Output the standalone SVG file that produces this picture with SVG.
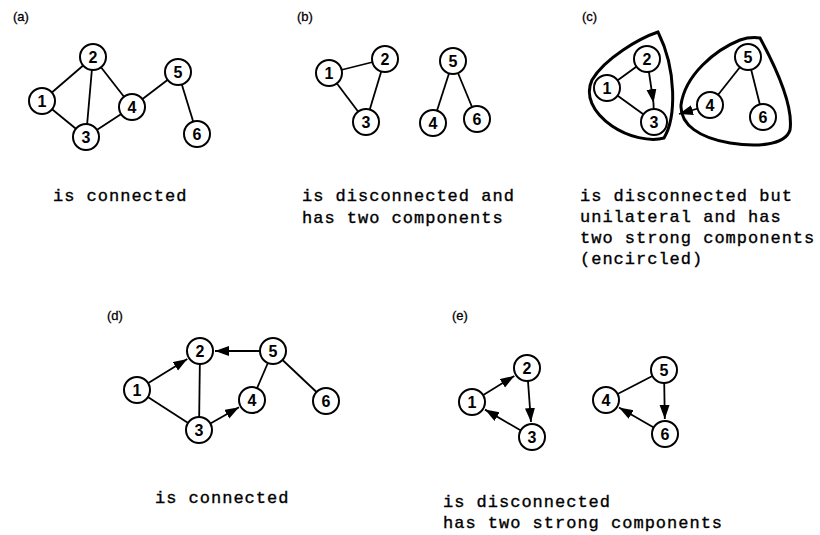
<svg xmlns="http://www.w3.org/2000/svg" width="820" height="535" viewBox="0 0 820 535">
<style>
.e{stroke:#000;stroke-width:1.8;fill:none}
.n circle{fill:#fff;stroke:#000;stroke-width:2}
.n text{font-family:"Liberation Sans",Arial,sans-serif;font-weight:bold;font-size:16px;text-anchor:middle}
.lab{font-family:"Liberation Sans",Arial,sans-serif;font-size:13px;stroke:#000;stroke-width:0.3}
.cap{font-family:"Liberation Mono","Courier New",monospace;font-size:17px;letter-spacing:1px;stroke:#000;stroke-width:0.35}
.blob{fill:none;stroke:#000;stroke-width:3}
</style>
<defs>
<marker id="ah" markerUnits="userSpaceOnUse" markerWidth="15" markerHeight="11" refX="14" refY="5" orient="auto">
<path d="M0,0 L14,5 L0,10 Z" fill="#000"/>
</marker>
</defs>
<rect width="820" height="535" fill="#fff"/>

<g id="labels">
<text class="lab" x="13" y="21">(a)</text>
<text class="lab" x="297" y="21">(b)</text>
<text class="lab" x="582" y="21">(c)</text>
<text class="lab" x="107" y="320">(d)</text>
<text class="lab" x="452" y="320">(e)</text>
</g>

<g id="blobs">
<path class="blob" d="M658,32 C640,38 605,58 592,80 C585,95 592,112 612,126 C628,137 650,142 664,138 C676,118 677,70 658,32 Z"/>
<path class="blob" d="M740,40 C715,50 685,75 681,105 C680,125 700,138 730,143 C755,147 785,146 790,130 C793,110 780,75 760,38 C753,37 746,38 740,40 Z"/>
</g>

<g id="connectors">
<line class="e" x1="42" y1="101" x2="93" y2="57"/>
<line class="e" x1="42" y1="101" x2="86" y2="137"/>
<line class="e" x1="93" y1="57" x2="86" y2="137"/>
<line class="e" x1="93" y1="57" x2="132" y2="107"/>
<line class="e" x1="86" y1="137" x2="132" y2="107"/>
<line class="e" x1="132" y1="107" x2="178" y2="72"/>
<line class="e" x1="178" y1="72" x2="197" y2="134"/>
<line class="e" x1="329" y1="73" x2="385" y2="59"/>
<line class="e" x1="329" y1="73" x2="366" y2="122"/>
<line class="e" x1="385" y1="59" x2="366" y2="122"/>
<line class="e" x1="453" y1="61" x2="433" y2="123"/>
<line class="e" x1="453" y1="61" x2="477" y2="119"/>
<line class="e" x1="607" y1="88" x2="647" y2="59"/>
<line class="e" x1="607" y1="88" x2="654" y2="122"/>
<line class="e" x1="647" y1="59" x2="653.5" y2="103" marker-end="url(#ah)"/>
<line class="e" x1="653.5" y1="103" x2="654" y2="122"/>
<line class="e" x1="710" y1="105" x2="679" y2="114" marker-end="url(#ah)"/>
<line class="e" x1="748" y1="57" x2="710" y2="105"/>
<line class="e" x1="748" y1="57" x2="763" y2="117"/>
<line class="e" x1="137" y1="390" x2="187.3" y2="358.9" marker-end="url(#ah)"/>
<line class="e" x1="273" y1="351" x2="215" y2="351" marker-end="url(#ah)"/>
<line class="e" x1="200" y1="351" x2="199" y2="430"/>
<line class="e" x1="137" y1="390" x2="199" y2="430"/>
<line class="e" x1="199" y1="430" x2="239" y2="407.3" marker-end="url(#ah)"/>
<line class="e" x1="273" y1="351" x2="252" y2="400"/>
<line class="e" x1="273" y1="351" x2="326" y2="401"/>
<line class="e" x1="472" y1="402" x2="514.3" y2="375.9" marker-end="url(#ah)"/>
<line class="e" x1="527" y1="368" x2="531" y2="422" marker-end="url(#ah)"/>
<line class="e" x1="532" y1="437" x2="485" y2="409.6" marker-end="url(#ah)"/>
<line class="e" x1="664" y1="370" x2="606" y2="400"/>
<line class="e" x1="664" y1="370" x2="664.8" y2="419" marker-end="url(#ah)"/>
<line class="e" x1="665" y1="434" x2="619" y2="407.5" marker-end="url(#ah)"/>
</g>

<g id="graph-a">
<g id="a1" class="n" transform="translate(42,101)"><circle r="13"/><text y="6">1</text></g>
<g id="a2" class="n" transform="translate(93,57)"><circle r="13"/><text y="6">2</text></g>
<g id="a3" class="n" transform="translate(86,137)"><circle r="13"/><text y="6">3</text></g>
<g id="a4" class="n" transform="translate(132,107)"><circle r="13"/><text y="6">4</text></g>
<g id="a5" class="n" transform="translate(178,72)"><circle r="13"/><text y="6">5</text></g>
<g id="a6" class="n" transform="translate(197,134)"><circle r="13"/><text y="6">6</text></g>
</g>
<g id="graph-b">
<g id="b1" class="n" transform="translate(329,73)"><circle r="13"/><text y="6">1</text></g>
<g id="b2" class="n" transform="translate(385,59)"><circle r="13"/><text y="6">2</text></g>
<g id="b3" class="n" transform="translate(366,122)"><circle r="13"/><text y="6">3</text></g>
<g id="b4" class="n" transform="translate(433,123)"><circle r="13"/><text y="6">4</text></g>
<g id="b5" class="n" transform="translate(453,61)"><circle r="13"/><text y="6">5</text></g>
<g id="b6" class="n" transform="translate(477,119)"><circle r="13"/><text y="6">6</text></g>
</g>
<g id="graph-c">
<g id="c1" class="n" transform="translate(607,88)"><circle r="13"/><text y="6">1</text></g>
<g id="c2" class="n" transform="translate(647,59)"><circle r="13"/><text y="6">2</text></g>
<g id="c3" class="n" transform="translate(654,122)"><circle r="13"/><text y="6">3</text></g>
<g id="c4" class="n" transform="translate(710,105)"><circle r="13"/><text y="6">4</text></g>
<g id="c5" class="n" transform="translate(748,57)"><circle r="13"/><text y="6">5</text></g>
<g id="c6" class="n" transform="translate(763,117)"><circle r="13"/><text y="6">6</text></g>
</g>
<g id="graph-d">
<g id="d1" class="n" transform="translate(137,390)"><circle r="13"/><text y="6">1</text></g>
<g id="d2" class="n" transform="translate(200,351)"><circle r="13"/><text y="6">2</text></g>
<g id="d3" class="n" transform="translate(199,430)"><circle r="13"/><text y="6">3</text></g>
<g id="d4" class="n" transform="translate(252,400)"><circle r="13"/><text y="6">4</text></g>
<g id="d5" class="n" transform="translate(273,351)"><circle r="13"/><text y="6">5</text></g>
<g id="d6" class="n" transform="translate(326,401)"><circle r="13"/><text y="6">6</text></g>
</g>
<g id="graph-e">
<g id="e1" class="n" transform="translate(472,402)"><circle r="13"/><text y="6">1</text></g>
<g id="e2" class="n" transform="translate(527,368)"><circle r="13"/><text y="6">2</text></g>
<g id="e3" class="n" transform="translate(532,437)"><circle r="13"/><text y="6">3</text></g>
<g id="e4" class="n" transform="translate(606,400)"><circle r="13"/><text y="6">4</text></g>
<g id="e5" class="n" transform="translate(664,370)"><circle r="13"/><text y="6">5</text></g>
<g id="e6" class="n" transform="translate(665,434)"><circle r="13"/><text y="6">6</text></g>
</g>

<g id="captions">
<text class="cap" x="53" y="201">is connected</text>
<text class="cap" x="302" y="201">is disconnected and</text>
<text class="cap" x="302" y="223">has two components</text>
<text class="cap" x="580" y="201">is disconnected but</text>
<text class="cap" x="580" y="222">unilateral and has</text>
<text class="cap" x="580" y="243">two strong components</text>
<text class="cap" x="580" y="264">(encircled)</text>
<text class="cap" x="155" y="503">is connected</text>
<text class="cap" x="443" y="507">is disconnected</text>
<text class="cap" x="443" y="528">has two strong components</text>
</g>
</svg>
